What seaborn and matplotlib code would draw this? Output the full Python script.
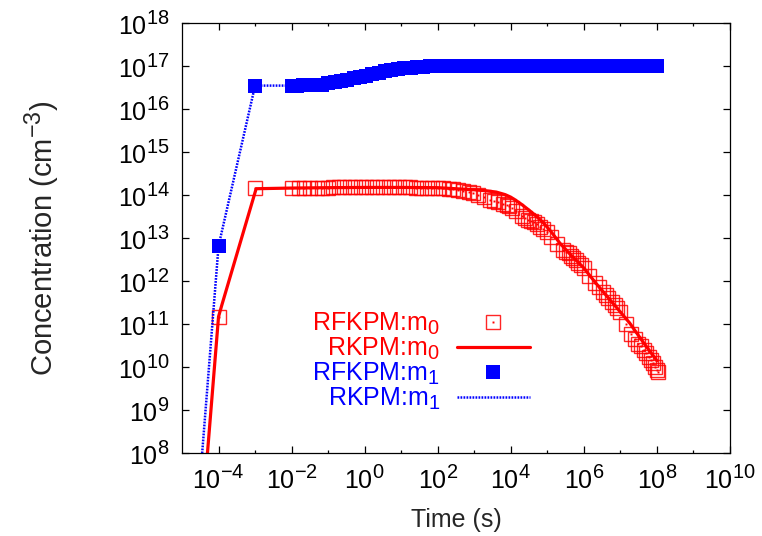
import matplotlib
matplotlib.use("Agg")
import matplotlib.pyplot as plt
import seaborn as sns
import pandas as pd
from matplotlib.ticker import FixedLocator, LogFormatterMathtext, NullFormatter
from matplotlib.legend_handler import HandlerTuple
try:
    import matplotlib._mathtext as _mt
    _mt.SHRINK_FACTOR = 0.8
except Exception:
    pass

# ---------------- data ----------------
# RKPM:m0 (red solid line)
rkpm_m0_t = [3e-5, 1e-4, 1.23e-4, 1.07e-3, 1e-2, 1e-1, 1e0, 1e1, 1e2, 1e3, 2e3,
             4e3, 7e3, 1e4, 1.4e4, 2e4, 3.2e4, 5e4, 8e4, 1.26e5, 2.2e5, 4e5, 1e6,
             2e6, 4.3e6, 1e7, 1.8e7, 4e7, 1e8]
rkpm_m0_y = [5e5, 1.48e11, 2.75e11, 1.4e14, 1.45e14, 1.48e14, 1.5e14, 1.5e14, 1.48e14,
             1.32e14, 1.26e14, 1.17e14, 1.02e14, 8.9e13, 7.4e13, 6.0e13, 4.4e13,
             3.2e13, 2.2e13, 1.41e13, 7.6e12, 4.4e12, 2.0e12, 9.5e11, 4.4e11,
             1.9e11, 1.05e11, 4.0e10, 1.4e10]

# RKPM:m1 (blue dotted line)
rkpm_m1_t = [2e-5, 1e-4, 1e-3, 1e-2, 1e-1, 1e0, 1e1, 1e2, 1e3, 1e4, 1e5, 1e6, 1e7, 1e8]
rkpm_m1_y = [2e5, 6.5e12, 3.5e16, 3.5e16, 4.0e16, 6.0e16, 8.7e16, 1e17, 1e17, 1e17,
             1e17, 1e17, 1e17, 1e17]

# RFKPM:m0 (red open squares)
rfkpm_m0_t = [1e-4, 1e-3,
              0.01, 0.016, 0.022, 0.032, 0.05, 0.07, 0.1, 0.14, 0.2, 0.28, 0.4, 0.56,
              0.8, 1.1, 1.6, 2.2, 3.2, 4.5, 6.3, 8.9, 12.6, 17.8, 25, 35, 50, 71, 100,
              141, 200, 270, 355, 500, 710, 930, 1.26e3, 1.8e3, 2.7e3, 3.5e3, 4.6e3,
              6e3, 7.8e3, 9.1e3, 1.07e4, 1.4e4, 2e4, 2.5e4, 3e4, 3.5e4, 4.2e4, 5.1e4,
              6.3e4, 7.8e4, 9.5e4, 1.26e5, 1.8e5, 2.75e5, 3.2e5, 3.8e5, 4.4e5, 5.1e5,
              6e5, 7.1e5, 8.3e5, 9.8e5, 1.4e6, 2e6, 2.6e6, 3.4e6, 4e6, 4.7e6, 5.8e6,
              7.1e6, 8.3e6, 9.8e6, 1.4e7, 2e7, 2.5e7, 3.1e7, 3.6e7, 4.3e7, 5e7, 5.9e7,
              6.9e7, 7.9e7, 8.9e7, 1e8, 1.07e8]
rfkpm_m0_y = [1.45e11, 1.45e14,
              1.45e14, 1.45e14, 1.45e14, 1.48e14, 1.48e14, 1.48e14, 1.48e14, 1.5e14,
              1.5e14, 1.5e14, 1.5e14, 1.5e14, 1.5e14, 1.5e14, 1.5e14, 1.5e14, 1.5e14,
              1.5e14, 1.5e14, 1.5e14, 1.5e14, 1.5e14, 1.48e14, 1.48e14, 1.48e14,
              1.45e14, 1.45e14, 1.45e14, 1.38e14, 1.35e14, 1.32e14, 1.26e14, 1.17e14,
              1.1e14, 1.0e14, 8.9e13, 7.6e13, 7.2e13, 6.9e13, 6.3e13, 5.9e13, 5.5e13,
              5.1e13, 4.2e13, 3.2e13, 2.9e13, 2.6e13, 2.5e13, 2.4e13, 2.1e13, 1.8e13,
              1.6e13, 1.4e13, 1.05e13, 7.1e12, 5.2e12, 4.8e12, 4.4e12, 3.9e12, 3.4e12,
              3.0e12, 2.6e12, 2.3e12, 2.0e12, 1.32e12, 8.9e11, 7.1e11, 5.6e11, 4.7e11,
              4.0e11, 3.3e11, 2.8e11, 2.3e11, 1.95e11, 1.0e11, 6.0e10, 4.6e10, 3.5e10,
              3.0e10, 2.5e10, 2.1e10, 1.74e10, 1.45e10, 1.23e10, 1.0e10, 8.5e9, 7.6e9]

# RFKPM:m1 (blue filled squares)
rfkpm_m1_t = [1e-4, 1e-3,
              0.01, 0.014, 0.02, 0.03, 0.045, 0.07, 0.1, 0.15, 0.22, 0.33, 0.5, 0.75,
              1.1, 1.6, 2.4, 3.6, 5.4, 8, 12, 18, 27, 40, 60, 90, 135, 200, 300, 450,
              700, 1e3, 1.5e3, 2.3e3, 3.5e3, 5e3, 8e3, 1.2e4, 1.8e4, 2.7e4, 4e4, 6e4,
              9e4, 1.4e5, 2e5, 3e5, 4.5e5, 7e5, 1e6, 1.5e6, 2.2e6, 3.3e6, 5e6, 7.5e6,
              1.1e7, 1.7e7, 2.5e7, 3.8e7, 5.6e7, 8.5e7, 1e8]
rfkpm_m1_y = [6.5e12, 3.5e16,
              3.47e16, 3.5e16, 3.52e16, 3.55e16, 3.6e16, 3.7e16, 4.0e16, 4.3e16,
              4.5e16, 4.8e16, 5.2e16, 5.6e16, 6.0e16, 6.5e16, 7.0e16, 7.5e16, 8.0e16,
              8.4e16, 8.8e16, 9.1e16, 9.4e16, 9.6e16, 9.8e16, 9.9e16, 1e17, 1e17,
              1e17, 1e17, 1e17, 1e17, 1e17, 1e17, 1e17, 1e17, 1e17, 1e17, 1e17, 1e17,
              1e17, 1e17, 1e17, 1e17, 1e17, 1e17, 1e17, 1e17, 1e17, 1e17, 1e17, 1e17,
              1e17, 1e17, 1e17, 1e17, 1e17, 1e17, 1e17, 1e17, 1e17]

x_major = [1e-4, 1e-2, 1e0, 1e2, 1e4, 1e6, 1e8, 1e10]
x_minor = [1e-3, 1e-1, 1e1, 1e3, 1e5, 1e7, 1e9]
y_major = [1e8, 1e9, 1e10, 1e11, 1e12, 1e13, 1e14, 1e15, 1e16, 1e17, 1e18]

labels = ["RFKPM:m$_0$", "RKPM:m$_0$", "RFKPM:m$_1$", "RKPM:m$_1$"]
RED = "#ff0000"
BLUE = "#0000ff"

# ---------------- style ----------------
sns.set_style("ticks")
plt.rcParams["font.family"] = ["Liberation Sans", "DejaVu Sans"]
plt.rcParams["mathtext.fontset"] = "custom"
plt.rcParams["mathtext.rm"] = "Liberation Sans"
plt.rcParams["mathtext.it"] = "Liberation Sans:italic"
plt.rcParams["mathtext.bf"] = "Liberation Sans:bold"
plt.rcParams["axes.edgecolor"] = "black"
plt.rcParams["axes.linewidth"] = 0.9

FS = 18

fig = plt.figure(figsize=(7.62, 5.36), dpi=100)
ax = fig.add_axes([182 / 762, 1 - 453 / 536, (730 - 182) / 762, (453 - 23) / 536])

df_m0 = pd.DataFrame({"t": rfkpm_m0_t, "y": rfkpm_m0_y})
df_m1 = pd.DataFrame({"t": rfkpm_m1_t, "y": rfkpm_m1_y})
dl_m0 = pd.DataFrame({"t": rkpm_m0_t, "y": rkpm_m0_y})
dl_m1 = pd.DataFrame({"t": rkpm_m1_t, "y": rkpm_m1_y})

# RFKPM:m0 open squares
sns.lineplot(data=df_m0, x="t", y="y", ax=ax, estimator=None, sort=False,
             linestyle="none", marker="s", markersize=10, markerfacecolor="none",
             markeredgecolor=RED, markeredgewidth=1.0, alpha=0.85)
sns.lineplot(data=df_m0, x="t", y="y", ax=ax, estimator=None, sort=False,
             linestyle="none", marker="s", markersize=1.4, markerfacecolor=RED,
             markeredgecolor=RED, markeredgewidth=0)
# RKPM:m0 line
sns.lineplot(data=dl_m0, x="t", y="y", ax=ax, estimator=None, sort=False,
             color=RED, linewidth=2.3)
# RFKPM:m1 filled squares
sns.lineplot(data=df_m1, x="t", y="y", ax=ax, estimator=None, sort=False,
             linestyle="none", marker="s", markersize=10, markerfacecolor=BLUE,
             markeredgecolor=BLUE, markeredgewidth=0)
# RKPM:m1 dotted line
sns.lineplot(data=dl_m1, x="t", y="y", ax=ax, estimator=None, sort=False,
             color=BLUE, linewidth=1.8, linestyle=(0, (0.7, 0.5)))

lines = ax.get_lines()
h_sq, h_dot, h_l0, h_sq1, h_l1 = lines[0], lines[1], lines[2], lines[3], lines[4]

ax.set_xscale("log")
ax.set_yscale("log")
ax.set_xlim(1e-5, 1e10)
ax.set_ylim(1e8, 1e18)

ax.xaxis.set_major_locator(FixedLocator(x_major))
ax.xaxis.set_minor_locator(FixedLocator(x_minor))
ax.xaxis.set_major_formatter(LogFormatterMathtext())
ax.xaxis.set_minor_formatter(NullFormatter())
ax.yaxis.set_major_locator(FixedLocator(y_major))
ax.yaxis.set_minor_locator(FixedLocator([]))
ax.yaxis.set_major_formatter(LogFormatterMathtext())

ax.tick_params(which="both", direction="in", top=True, right=True, colors="black",
               labelsize=FS)
ax.tick_params(which="major", length=5, width=0.9, pad=9)
ax.tick_params(which="minor", length=2.5, width=0.9)

ax.set_xlabel("Time (s)", fontsize=FS, labelpad=10)
ax.set_ylabel("Concentration (cm$^{-3}$)", fontsize=21, labelpad=40)

leg = ax.legend([(h_sq, h_dot), h_l0, h_sq1, h_l1], labels,
                handler_map={tuple: HandlerTuple(ndivide=1)},
                loc="center right", bbox_to_anchor=(0.635, 0.213),
                frameon=False, markerfirst=False, fontsize=FS,
                handlelength=2.92, handletextpad=0.68, labelspacing=-0.05,
                borderpad=0, borderaxespad=0)
for txt, c in zip(leg.get_texts(), [RED, RED, BLUE, BLUE]):
    txt.set_color(c)

fig.savefig("out.png", dpi=100)
